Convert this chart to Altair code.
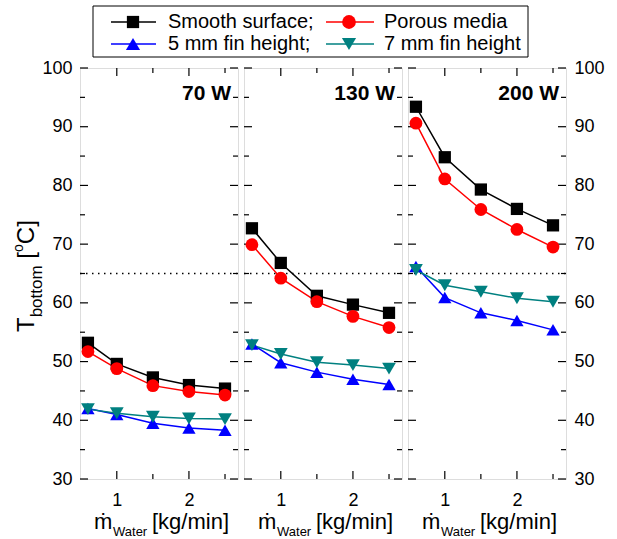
import altair as alt
import pandas as pd

# ---------------- data ----------------
flow = [0.6, 1.0, 1.5, 2.0, 2.5]
powers = ["70 W", "130 W", "200 W"]
series_names = ["Smooth surface;", "Porous media", "5 mm fin height;", "7 mm fin height"]
series_colors = ["#000000", "#FF0000", "#0000FF", "#008080"]
series_shapes = ["square", "circle", "triangle-up", "triangle-down"]
series_sizes = [150, 190, 200, 200]

smooth = {"70 W": [53.2, 49.6, 47.3, 46.0, 45.4],
          "130 W": [72.7, 66.8, 61.2, 59.7, 58.3],
          "200 W": [93.4, 84.8, 79.3, 76.0, 73.2]}
porous = {"70 W": [51.7, 48.8, 45.9, 44.9, 44.3],
          "130 W": [69.9, 64.2, 60.2, 57.7, 55.8],
          "200 W": [90.6, 81.1, 75.9, 72.5, 69.5]}
fin5 = {"70 W": [42.0, 41.0, 39.5, 38.7, 38.3],
        "130 W": [53.0, 49.8, 48.2, 47.0, 46.1],
        "200 W": [66.2, 60.9, 58.3, 57.0, 55.4]}
fin7 = {"70 W": [41.9, 41.2, 40.6, 40.3, 40.2],
        "130 W": [52.8, 51.3, 49.9, 49.4, 48.8],
        "200 W": [65.6, 63.0, 61.9, 60.8, 60.2]}

threshold = [65]
ytick_major = [30, 40, 50, 60, 70, 80, 90, 100]
ytick_minor = [35, 45, 55, 65, 75, 85, 95]
xtick_major = [1, 2]
xtick_minor = [1.5, 2.5]

rows = []
for p in powers:
    for name, vals in zip(series_names, [smooth[p], porous[p], fin5[p], fin7[p]]):
        for x, y in zip(flow, vals):
            rows.append({"panel": p, "series": name, "x": x, "y": y})
df = pd.DataFrame(rows)

FONT = "Liberation Sans"
W, H = 158, 411
xs = alt.Scale(domain=[0.49, 2.68], nice=False, zero=False)
ys = alt.Scale(domain=[30, 100], nice=False, zero=False)
cscale = alt.Scale(domain=series_names, range=series_colors)
sscale = alt.Scale(domain=series_names, range=series_shapes)
zscale = alt.Scale(domain=series_names, range=series_sizes)
one = pd.DataFrame({"d": [0]})


def yaxis(which):
    if which == "left":
        return alt.Axis(orient="left", values=ytick_major, ticks=False, domain=False, grid=False,
                        title=None, labelPadding=8, labelFontSize=18, labelFont=FONT)
    if which == "right":
        return alt.Axis(orient="right", values=ytick_major, ticks=False, domain=False, grid=False,
                        title=None, labelPadding=8, labelFontSize=18, labelFont=FONT)
    return None


xaxis = alt.Axis(values=xtick_major, ticks=False, domain=False, grid=False, title=None,
                 labelPadding=12, labelFontSize=18, labelFont=FONT, format="d")


def text(t, x, y, size, align="left", baseline="alphabetic", bold=False, angle=None):
    kw = dict(text=t, fontSize=size, font=FONT, align=align, baseline=baseline, color="black")
    if bold:
        kw["fontWeight"] = "bold"
    if angle is not None:
        kw["angle"] = angle
    return alt.Chart(one).mark_text(**kw).encode(x=alt.value(x), y=alt.value(y))


def panel(i, p):
    which = ["left", None, "right"][i]
    d = df[df.panel == p]
    layers = []
    # threshold line
    layers.append(alt.Chart(pd.DataFrame({"y": threshold})).mark_rule(
        color="black", strokeWidth=1.5, strokeDash=[1.5, 4.5]).encode(
        y=alt.Y("y:Q", scale=ys, axis=yaxis(which)), x=alt.value(0), x2=alt.value(W)))
    # ticks (inward, on all four sides)
    for vals, ln in [(ytick_major, 8), (ytick_minor, 5)]:
        t = pd.DataFrame({"v": vals})
        layers.append(alt.Chart(t).mark_rule(color="black", strokeWidth=1.2).encode(
            y=alt.Y("v:Q", scale=ys), x=alt.value(0), x2=alt.value(ln)))
        layers.append(alt.Chart(t).mark_rule(color="black", strokeWidth=1.2).encode(
            y=alt.Y("v:Q", scale=ys), x=alt.value(W), x2=alt.value(W - ln)))
    for k, (vals, ln) in enumerate([(xtick_major, 8), (xtick_minor, 5)]):
        t = pd.DataFrame({"v": vals})
        enc_x = alt.X("v:Q", scale=xs, axis=xaxis) if k == 0 else alt.X("v:Q", scale=xs)
        layers.append(alt.Chart(t).mark_rule(color="black", strokeWidth=1.2).encode(
            x=enc_x, y=alt.value(H), y2=alt.value(H - ln)))
        layers.append(alt.Chart(t).mark_rule(color="black", strokeWidth=1.2).encode(
            x=alt.X("v:Q", scale=xs), y=alt.value(0), y2=alt.value(ln)))
    # data
    base = alt.Chart(d)
    layers.append(base.mark_line(strokeWidth=1.5).encode(
        x=alt.X("x:Q", scale=xs), y=alt.Y("y:Q", scale=ys),
        color=alt.Color("series:N", scale=cscale, legend=None),
        detail="series:N"))
    layers.append(base.mark_point(filled=True, opacity=1).encode(
        x=alt.X("x:Q", scale=xs), y=alt.Y("y:Q", scale=ys),
        color=alt.Color("series:N", scale=cscale, legend=None),
        shape=alt.Shape("series:N", scale=sscale, legend=None),
        size=alt.Size("series:N", scale=zscale, legend=None),
        order=alt.Order("series_idx:Q")).transform_calculate(
        series_idx="indexof(%s, datum.series)" % str(series_names)))
    # panel label
    layers.append(text(p, W - 7, 32, 21, align="right", bold=True))
    # x title
    layers.append(text("ṁ", 14, H + 50, 22))
    layers.append(text("Water", 33, H + 57, 13))
    layers.append(text("[kg/min]", 72, H + 50, 22))

    if i == 0:
        # y title (rotated, built from pieces)
        f, s, sp = 24, 17, 14
        y0 = 264
        y1 = y0 - 0.611 * f
        y2 = y1 - 3.06 * s - 0.278 * f
        y3 = y2 - 0.278 * f
        y4 = y3 - 0.556 * sp
        layers.append(text("T", -46, y0, f, angle=270))
        layers.append(text("bottom", -38, y1, s, angle=270))
        layers.append(text("[", -46, y2, f, angle=270))
        layers.append(text("o", -57, y3, sp, angle=270))
        layers.append(text("C]", -46, y4, f, angle=270))
        # legend box
        layers.append(alt.Chart(one).mark_rect(filled=False, stroke="black", strokeWidth=1).encode(
            x=alt.value(13), x2=alt.value(448), y=alt.value(-62), y2=alt.value(-11)))
        pos = [(31, 76, 53, 88, -46), (246, 294, 269, 304, -46),
               (31, 76, 53, 88, -24), (246, 294, 269, 304, -24)]
        for k, (l1, l2, mx, tx, ty) in enumerate(pos):
            layers.append(alt.Chart(one).mark_rule(color=series_colors[k], strokeWidth=1.5).encode(
                x=alt.value(l1), x2=alt.value(l2), y=alt.value(ty)))
            layers.append(alt.Chart(one).mark_point(
                filled=True, opacity=1, color=series_colors[k], shape=series_shapes[k],
                size=series_sizes[k]).encode(x=alt.value(mx), y=alt.value(ty)))
            layers.append(text(series_names[k], tx, ty, 20, baseline="middle"))

    return alt.layer(*layers).properties(width=W, height=H)


chart = alt.hconcat(*[panel(i, p) for i, p in enumerate(powers)], spacing=6, bounds="flush")
chart = chart.properties(padding={"left": 11, "top": 5, "right": 5, "bottom": 5}).configure_view(
    stroke="black", strokeWidth=1.5).configure(background="white")

chart.save("out.html", embed_options={"renderer": "svg", "actions": False})
